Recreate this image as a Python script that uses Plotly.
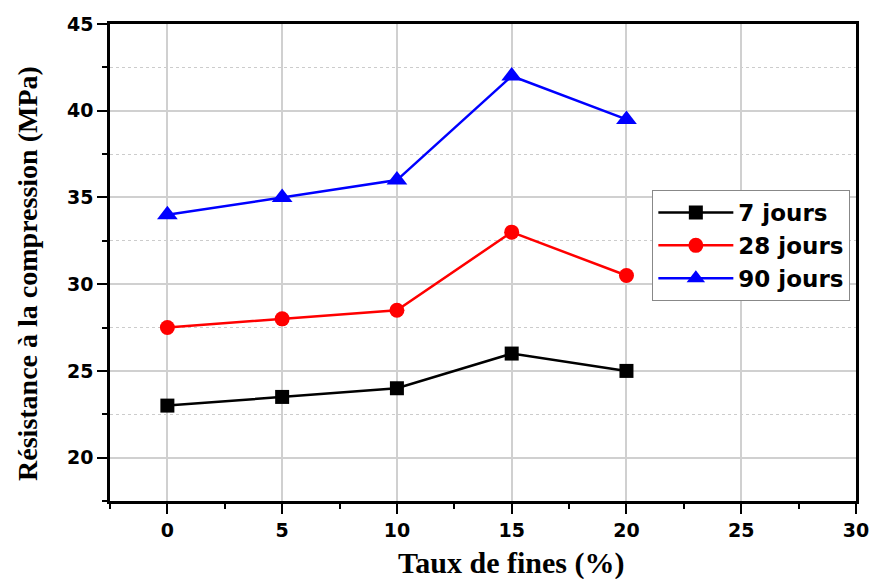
import plotly.graph_objects as go

taux = [0, 5, 10, 15, 20]
j7 = [23, 23.5, 24, 26, 25]
j28 = [27.5, 28, 28.5, 33, 30.5]
j90 = [34, 35, 36, 42, 39.5]

x_title = "Taux de fines (%)"
y_title = "Résistance à la compression (MPa)"

series = [
    ("7 jours", j7, "black", "square", 14),
    ("28 jours", j28, "red", "circle", 15),
    ("90 jours", j90, "blue", "triangle-up", 18),
]

fig = go.Figure()
for name, ys, col, sym, sz in series:
    fig.add_trace(go.Scatter(
        x=taux, y=ys, name=name, mode="lines+markers",
        line=dict(color=col, width=2.5),
        marker=dict(symbol=sym, size=sz, color=col),
    ))

tickfont = dict(family="DejaVu Sans", size=19, color="black", weight="bold")
serif = "Liberation Serif, Times New Roman"

fig.add_annotation(text=x_title, xref="paper", yref="paper", x=0.537, y=0, yshift=-62,
                   xanchor="center", yanchor="middle", showarrow=False,
                   font=dict(family=serif, size=30, color="black", weight="bold"))
fig.add_annotation(text=y_title, xref="paper", yref="paper", x=-0.11, y=0.478,
                   xanchor="center", yanchor="middle", textangle=-90, showarrow=False,
                   font=dict(family=serif, size=28, color="black", weight="bold"))

fig.update_layout(
    width=881, height=579,
    margin=dict(l=110, r=19, t=24, b=78),
    plot_bgcolor="white", paper_bgcolor="white",
    showlegend=True,
    legend=dict(
        x=0.727, y=0.652, xanchor="left", yanchor="top",
        bordercolor="#888888", borderwidth=1, bgcolor="white",
        font=dict(family="DejaVu Sans", size=23, color="black", weight="bold"),
        tracegroupgap=0, itemwidth=75,
    ),
    xaxis=dict(
        range=[-2.5, 30], tick0=0, dtick=5,
        showline=True, linecolor="black", linewidth=2.5, mirror=True,
        ticks="outside", ticklen=10, tickwidth=2, tickcolor="black",
        showgrid=True, gridcolor="#d0d0d0", gridwidth=1.5,
        zeroline=False, tickfont=tickfont,
        minor=dict(dtick=2.5, tick0=0, ticks="outside", ticklen=5, tickwidth=2, tickcolor="black", showgrid=False),
    ),
    yaxis=dict(
        range=[17.5, 45], tick0=0, dtick=5,
        showline=True, linecolor="black", linewidth=2.5, mirror=True,
        ticks="outside", ticklen=10, tickwidth=2, tickcolor="black",
        showgrid=True, gridcolor="#d0d0d0", gridwidth=1.5,
        zeroline=False, tickfont=tickfont,
        minor=dict(dtick=2.5, tick0=0, ticks="outside", ticklen=5, tickwidth=2, tickcolor="black",
                   showgrid=True, gridcolor="#cccccc", griddash="dot", gridwidth=1),
    ),
)

fig.write_html("out.html")
